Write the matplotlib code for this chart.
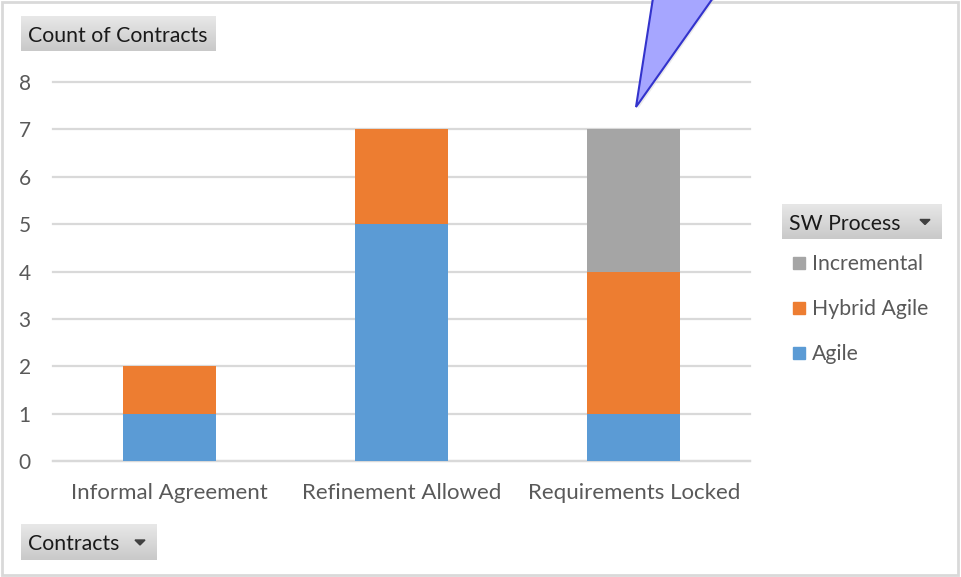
import numpy as np
import matplotlib.pyplot as plt
from matplotlib.patches import Rectangle, Polygon

contracts = ['Informal Agreement', 'Refinement Allowed', 'Requirements Locked']
agile = [1, 5, 1]
hybrid_agile = [1, 2, 3]
incremental = [0, 0, 3]
yticks = [0, 1, 2, 3, 4, 5, 6, 7, 8]

c_agile = '#5b9bd5'
c_hybrid = '#ed7d31'
c_incr = '#a5a5a5'
txt = '#595959'

plt.rcParams['font.family'] = ['Lato', 'DejaVu Sans']

W, H = 961, 577
fig = plt.figure(figsize=(W / 100, H / 100), dpi=100)


def fx(px):
    return px / W


def fy(py):
    return 1 - py / H


# outer chart frame
fig.add_artist(Rectangle((fx(2), fy(575)), fx(956), 573 / H, transform=fig.transFigure,
                         fill=False, ec='#d9d9d9', lw=2))

ax = fig.add_axes([fx(53), fy(461), fx(750) - fx(53), (461 - 82) / H])
x = np.arange(len(contracts))
bw = 0.4
ax.bar(x, agile, bw, color=c_agile, label='Agile', zorder=3)
ax.bar(x, hybrid_agile, bw, bottom=agile, color=c_hybrid, label='Hybrid Agile', zorder=3)
bottom2 = np.array(agile) + np.array(hybrid_agile)
ax.bar(x, incremental, bw, bottom=bottom2, color=c_incr, label='Incremental', zorder=3)

ax.set_xlim(-0.5, 2.5)
ax.set_ylim(0, 8)
ax.set_yticks(yticks)
ax.set_xticks(x)
ax.set_xticklabels(contracts)
ax.tick_params(axis='both', length=0, colors=txt)
ax.tick_params(axis='y', pad=16, labelsize=15)
ax.tick_params(axis='x', pad=16, labelsize=16)
ax.yaxis.grid(True, color='#d9d9d9', lw=1.6, zorder=0)
for g in ax.get_ygridlines():
    g.set_clip_on(False)
for s in ['top', 'right', 'left']:
    ax.spines[s].set_visible(False)
ax.spines['bottom'].set_color('#d9d9d9')
ax.spines['bottom'].set_linewidth(1.6)
ax.set_facecolor('none')


def button(x0, y0, x1, y1, label, arrow=False):
    bax = fig.add_axes([fx(x0), fy(y1), fx(x1) - fx(x0), (y1 - y0) / H])
    grad = np.linspace(0, 1, 64).reshape(-1, 1)
    bax.imshow(grad, aspect='auto', cmap=plt.cm.colors.LinearSegmentedColormap.from_list(
        'btn', ['#e8e8e8', '#c9c9c9']), extent=[0, 1, 0, 1], origin='upper')
    bax.set_axis_off()
    fig.text(fx(x0 + 7), fy((y0 + y1) / 2 + 2), label, fontsize=15.3, color='#1a1a1a',
             va='center', ha='left')
    if arrow:
        ax_ = x1 - 17
        cy = (y0 + y1) / 2
        fig.add_artist(Polygon([(fx(ax_ - 5), fy(cy - 2)), (fx(ax_ + 5), fy(cy - 2)),
                                (fx(ax_), fy(cy + 3))], closed=True, transform=fig.transFigure,
                               color='#404040'))


button(21, 16, 215, 51, 'Count of Contracts')
button(21, 524, 157, 560, 'Contracts', arrow=True)
button(782, 204, 942, 239, 'SW Process', arrow=True)

# legend entries, top to bottom
legend_items = [('Incremental', c_incr), ('Hybrid Agile', c_hybrid), ('Agile', c_agile)]
for i, (name, col) in enumerate(legend_items):
    cy = 263 + 45 * i
    fig.add_artist(Rectangle((fx(793), fy(cy + 6)), fx(12), 12 / H, transform=fig.transFigure,
                             color=col))
    fig.text(fx(812), fy(cy + 1), name, fontsize=15.3, color=txt, va='center', ha='left')

# callout pointer
fig.add_artist(Polygon([(fx(638), fy(109)), (fx(655), fy(-2)), (fx(716), fy(-2))],
                       closed=True, transform=fig.transFigure, fc='#dcdcdc', ec='none',
                       alpha=0.6, zorder=9))
fig.add_artist(Polygon([(fx(636), fy(107)), (fx(653), fy(-2)), (fx(713), fy(-2))],
                       closed=True, transform=fig.transFigure, fc='#a6a6ff', ec='#3333cc',
                       lw=1.5, zorder=10))

fig.savefig('out.png', dpi=100)
